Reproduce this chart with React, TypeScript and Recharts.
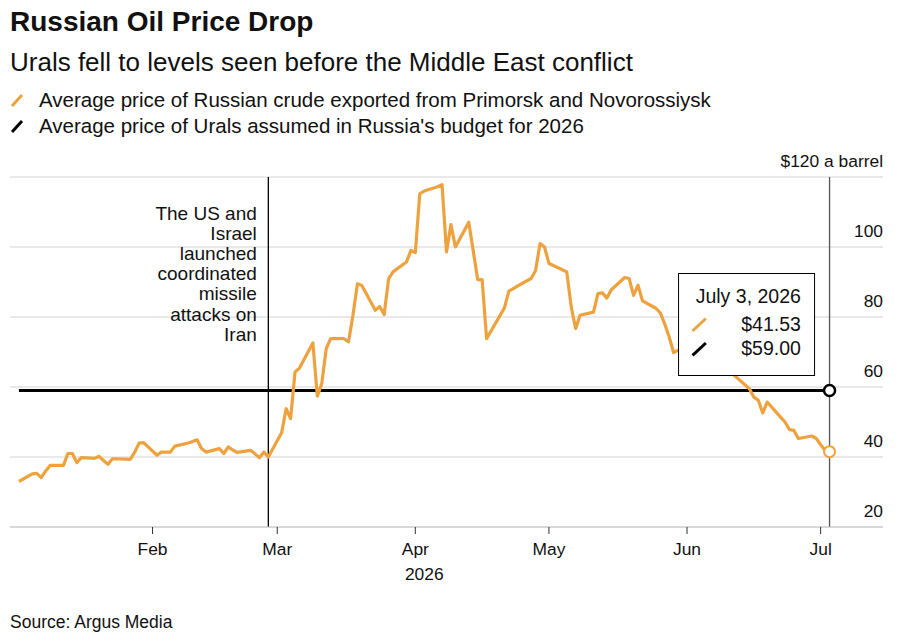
import React from 'react';
import { LineChart, Line, XAxis, YAxis, CartesianGrid, ReferenceLine, ReferenceDot } from 'recharts';

const YEAR = 2026;
const dates = [
  '01-02','01-05','01-06','01-07','01-08','01-09','01-12','01-13','01-14','01-15','01-16',
  '01-19','01-20','01-21','01-22','01-23','01-26','01-27','01-28','01-29','01-30',
  '02-02','02-03','02-04','02-05','02-06','02-09','02-10','02-11','02-12','02-13',
  '02-16','02-17','02-18','02-19','02-20','02-23','02-24','02-25','02-26','02-27',
  '03-02','03-03','03-04','03-05','03-06','03-09','03-10','03-11','03-12','03-13',
  '03-16','03-17','03-18','03-19','03-20','03-23','03-24','03-25','03-26','03-27',
  '03-30','03-31','04-01','04-02','04-03','04-06','04-07','04-08','04-09','04-10',
  '04-13','04-14','04-15','04-16','04-17','04-20','04-21','04-22','04-23','04-24',
  '04-27','04-28','04-29','04-30','05-01','05-04','05-05','05-06','05-07','05-08',
  '05-11','05-12','05-13','05-14','05-15','05-18','05-19','05-20','05-21','05-22',
  '05-25','05-26','05-27','05-28','05-29','06-01','06-02','06-03','06-04','06-05',
  '06-08','06-09','06-10','06-11','06-12','06-15','06-16','06-17','06-18','06-19',
  '06-22','06-23','06-24','06-25','06-26','06-29','06-30','07-01','07-02','07-03',
];
const uralsPrices = [
  33.0, 35.2, 35.3, 34.1, 36.0, 37.6, 37.6, 41.0, 41.0, 38.4, 39.8,
  39.6, 40.2, 39.0, 37.9, 39.5, 39.4, 39.3, 41.4, 44.0, 44.1,
  40.5, 41.4, 41.4, 41.4, 43.1, 44.0, 44.4, 44.9, 42.4, 41.4,
  42.4, 41.0, 42.9, 42.0, 41.3, 41.9, 40.9, 39.8, 41.4, 40.0,
  47.0, 53.8, 51.0, 64.3, 65.4, 72.6, 57.4, 61.0, 71.0, 73.8,
  73.8, 72.9, 80.5, 89.5, 89.0, 81.9, 83.0, 80.7, 90.9, 92.9,
  95.7, 99.0, 98.4, 115.2, 116.0, 117.2, 117.8, 98.6, 106.4, 100.0,
  107.1, 98.9, 90.7, 90.7, 73.8, 80.4, 82.6, 87.4, 88.1, 88.9,
  91.0, 93.3, 101.0, 100.0, 95.3, 93.5, 92.9, 82.9, 76.7, 80.5,
  81.4, 86.7, 86.9, 85.4, 87.8, 91.3, 91.0, 86.2, 89.1, 84.6,
  82.5, 81.2, 78.0, 74.3, 69.8, 71.9, 70.5, 69.0, 69.8, 68.0,
  66.5, 67.0, 65.2, 64.0, 62.9, 59.5, 57.1, 56.2, 52.6, 55.7,
  51.4, 50.0, 47.8, 47.6, 45.3, 46.0, 45.3, 43.5, 41.9, 41.53,
];
const budgetPrice = 59;

const monthTickDates = ['02-01', '03-01', '04-01', '05-01', '06-01', '07-01'];
const monthTickLabels = ['Feb', 'Mar', 'Apr', 'May', 'Jun', 'Jul'];
const yTicks = [20, 40, 60, 80, 100, 120];
const yDomain = [20, 120];
const xDomainDates = ['12-31-prev', '07-15'];
const yearLabel = '2026';
const eventDate = '02-27';
const eventNote = ['The US and', 'Israel', 'launched', 'coordinated', 'missile', 'attacks on', 'Iran'];
const tooltipTitle = 'July 3, 2026';

const title = 'Russian Oil Price Drop';
const subtitle = 'Urals fell to levels seen before the Middle East conflict';
const legendUrals = 'Average price of Russian crude exported from Primorsk and Novorossiysk';
const legendBudget = "Average price of Urals assumed in Russia's budget for 2026";
const source = 'Source: Argus Media';

const ORANGE = '#EEA23E';
const BLACK = '#000000';
const FONT = '"Liberation Sans", Arial, Helvetica, sans-serif';

const dayOf = (mmdd: string) => {
  if (mmdd === '12-31-prev') return (Date.UTC(YEAR - 1, 11, 31) - Date.UTC(YEAR, 0, 1)) / 86400000;
  const [m, d] = mmdd.split('-').map(Number);
  return (Date.UTC(YEAR, m - 1, d) - Date.UTC(YEAR, 0, 1)) / 86400000;
};

const data = dates.map((d, i) => ({ t: dayOf(d), urals: uralsPrices[i], budget: budgetPrice }));
const lastIdx = data.length - 1;
const lastDay = data[lastIdx].t;
const firstDay = data[0].t;
const monthTicks = monthTickDates.map(dayOf);
const monthLabelOf = (v: number) => monthTickLabels[monthTicks.indexOf(v)] ?? '';

const YTick = (props: any) => {
  const { x, y, payload } = props;
  const label = payload.value === 120 ? '$120 a barrel' : String(payload.value);
  return (
    <text x={x} y={y - 10} textAnchor="end" fontSize={17.4} fill="#111" fontFamily={FONT}>
      {label}
    </text>
  );
};

const XTick = (props: any) => {
  const { x, y, payload } = props;
  return (
    <text x={x} y={y} dy="0.71em" textAnchor="middle" fontSize={17.4} fill="#111" fontFamily={FONT}>
      {monthLabelOf(payload.value)}
    </text>
  );
};

const EventLabel = (props: any) => {
  const vb = props.viewBox || {};
  const x = vb.x - 11.5;
  const y0 = vb.y + 43;
  return (
    <text textAnchor="end" fontSize={19} fill="#111" fontFamily={FONT}>
      {eventNote.map((line, i) => (
        <tspan key={i} x={x} y={y0 + i * 20.1}>
          {line}
        </tspan>
      ))}
    </text>
  );
};

const YearLabel = (props: any) => {
  const { cx, cy } = props;
  return (
    <text x={cx} y={cy + 53} textAnchor="middle" fontSize={17.4} fill="#111" fontFamily={FONT}>
      {yearLabel}
    </text>
  );
};

const TooltipBox = (props: any) => {
  const { cx, cy } = props;
  const left = cx - 151;
  const top = cy - 117;
  const tx = cx - 28.7;
  return (
    <g>
      <rect x={left} y={top} width={136} height={102} fill="#fff" stroke="#000" strokeWidth={1} />
      <text x={tx} y={cy - 87.5} textAnchor="end" fontSize={19.5} fill="#111" fontFamily={FONT}>
        {tooltipTitle}
      </text>
      <line x1={cx - 137} y1={cy - 59.5} x2={cx - 123.7} y2={cy - 72} stroke={ORANGE} strokeWidth={3} />
      <text x={tx} y={cy - 60} textAnchor="end" fontSize={19.5} fill="#111" fontFamily={FONT}>
        {'$' + uralsPrices[lastIdx].toFixed(2)}
      </text>
      <line x1={cx - 137} y1={cy - 35.2} x2={cx - 123.7} y2={cy - 47.5} stroke={BLACK} strokeWidth={3} />
      <text x={tx} y={cy - 35.7} textAnchor="end" fontSize={19.5} fill="#111" fontFamily={FONT}>
        {'$' + budgetPrice.toFixed(2)}
      </text>
    </g>
  );
};

const endDot = (color: string, sw: number) => (props: any) => {
  const { cx, cy, index } = props;
  if (index !== lastIdx) return <g key={`d${index}`} />;
  return <circle key={`d${index}`} cx={cx} cy={cy} r={5.5} fill="#fff" stroke={color} strokeWidth={sw} />;
};

const LegendIcon = ({ color }: { color: string }) => (
  <svg width={14} height={16} style={{ position: 'absolute', left: 0, top: 5 }}>
    <line x1={2} y1={14} x2={12} y2={3} stroke={color} strokeWidth={3} />
  </svg>
);

export default function App() {
  return (
    <div style={{ position: 'relative', width: 884, height: 627, fontFamily: FONT, color: '#111' }}>
      <div style={{ position: 'absolute', left: 2, top: -2, fontSize: 28, lineHeight: '32px', fontWeight: 700 }}>
        {title}
      </div>
      <div style={{ position: 'absolute', left: 2, top: 39, fontSize: 26, lineHeight: '30px' }}>{subtitle}</div>
      <div style={{ position: 'absolute', left: 2, top: 79, fontSize: 20.5, lineHeight: '26px', paddingLeft: 29 }}>
        <LegendIcon color={ORANGE} />
        {legendUrals}
      </div>
      <div style={{ position: 'absolute', left: 2, top: 105, fontSize: 20.5, lineHeight: '26px', paddingLeft: 29 }}>
        <LegendIcon color={BLACK} />
        {legendBudget}
      </div>
      <div style={{ position: 'absolute', left: 2, top: 603, fontSize: 17.5, lineHeight: '22px' }}>{source}</div>
      <div style={{ position: 'absolute', left: 0, top: 0 }}>
        <LineChart width={884} height={600} data={data} margin={{ top: 169, right: 9, bottom: 51, left: 2 }}>
          <CartesianGrid horizontal vertical={false} stroke="#d4d4d4" strokeWidth={1.2} />
          <XAxis
            type="number"
            dataKey="t"
            domain={[dayOf(xDomainDates[0]), dayOf(xDomainDates[1])]}
            ticks={monthTicks}
            interval={0}
            height={30}
            axisLine={{ stroke: '#c8c8c8', strokeWidth: 1.2 }}
            tickLine={{ stroke: '#333', strokeWidth: 1 }}
            tickSize={7}
            tickMargin={9}
            tick={<XTick />}
            allowDataOverflow
          />
          <YAxis
            orientation="right"
            width={1}
            mirror
            domain={yDomain}
            ticks={yTicks}
            axisLine={false}
            tickLine={false}
            tickSize={0}
            tickMargin={0}
            tick={<YTick />}
            interval={0}
          />
          <ReferenceLine x={dayOf(eventDate)} stroke="#000" strokeWidth={1.3} label={<EventLabel />} />
          <ReferenceLine x={lastDay} stroke="#555" strokeWidth={1.3} />
          <ReferenceDot
            x={(firstDay + lastDay) / 2}
            y={yDomain[0]}
            r={0}
            ifOverflow="visible"
            shape={<YearLabel />}
          />
          <Line
            dataKey="budget"
            stroke={BLACK}
            strokeWidth={3}
            dot={endDot(BLACK, 2.5)}
            activeDot={false}
            isAnimationActive={false}
          />
          <Line
            dataKey="urals"
            stroke={ORANGE}
            strokeWidth={3.2}
            strokeLinejoin="round"
            dot={endDot(ORANGE, 2)}
            activeDot={false}
            isAnimationActive={false}
          />
          <ReferenceDot
            x={lastDay}
            y={budgetPrice}
            r={0}
            ifOverflow="visible"
            shape={<TooltipBox />}
            zIndex={1500}
          />
        </LineChart>
      </div>
    </div>
  );
}
